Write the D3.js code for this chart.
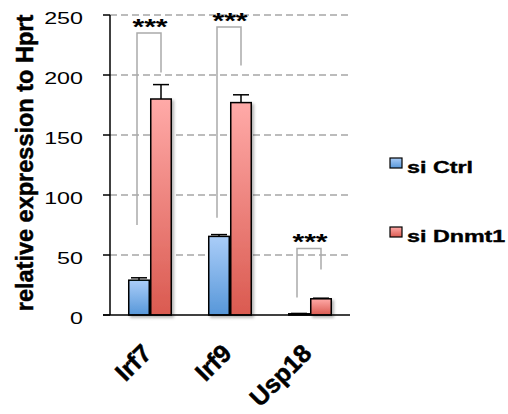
<!DOCTYPE html>
<html><head><meta charset="utf-8">
<script src="https://cdn.jsdelivr.net/npm/d3@7"></script>
<style>body{margin:0;background:#fff}svg{display:block}</style>
</head><body>
<svg id="c" width="508" height="414"></svg>
<script>
const categories = ["Irf7", "Irf9", "Usp18"];
const series = ["si Ctrl", "si Dnmt1"];
const ctrlValues = [29, 65.5, 1];
const ctrlErrors = [2, 1.5, 0.3];
const dnmtValues = [180, 177, 13.5];
const dnmtErrors = [12, 6.5, 0.5];
const yTicks = [0, 50, 100, 150, 200, 250];
// significance brackets: top, left bottom, right bottom (in data units)
const sigTop = [235, 240, 55.5];
const sigLeftBottom = [75, 81, 14.5];
const sigRightBottom = [202, 208, 38];
const sigLabel = ["***", "***", "***"];

const svg = d3.select("#c");
const SX = 1.37;
const FONT = "Liberation Sans, Arial, sans-serif";
const m = {l:110, r:350, t:15, b:315};
const y = d3.scaleLinear().domain([0,250]).range([m.b, m.t]);
const x0 = d3.scaleBand().domain(categories).range([m.l, m.r]).paddingInner(0.45).paddingOuter(0.225);
const x1 = d3.scaleBand().domain(series).range([0, x0.bandwidth()]);

const defs = svg.append("defs");
const g1 = defs.append("linearGradient").attr("id","gb").attr("x1",0).attr("y1",0).attr("x2",0).attr("y2",1);
g1.append("stop").attr("offset","0%").attr("stop-color","#aacdf8");
g1.append("stop").attr("offset","100%").attr("stop-color","#5797d9");
const g2 = defs.append("linearGradient").attr("id","gr").attr("x1",0).attr("y1",0).attr("x2",0).attr("y2",1);
g2.append("stop").attr("offset","0%").attr("stop-color","#ffaaa8");
g2.append("stop").attr("offset","100%").attr("stop-color","#da5a50");
const f = defs.append("filter").attr("id","sh").attr("x","-20%").attr("y","-20%").attr("width","150%").attr("height","150%");
f.append("feDropShadow").attr("dx",2).attr("dy",2).attr("stdDeviation",1.5).attr("flood-color","#000").attr("flood-opacity",0.3);
const fills = {"si Ctrl":"url(#gb)", "si Dnmt1":"url(#gr)"};

// gridlines
svg.append("g").selectAll("line").data(yTicks.filter(d=>d>0)).join("line")
  .attr("x1", m.l).attr("x2", m.r).attr("y1", d=>y(d)).attr("y2", d=>y(d))
  .attr("stroke","#a6a6a6").attr("stroke-width",1.5).attr("stroke-dasharray","7,4");

// brackets
const br = svg.append("g");
categories.forEach((c,i)=>{
  const xl = x0(c) + x1("si Ctrl") + x1.bandwidth()/2 - 2;
  const xr = x0(c) + x1("si Dnmt1") + x1.bandwidth()/2;
  br.append("path")
    .attr("d", `M${xl},${y(sigLeftBottom[i])}V${y(sigTop[i])}H${xr}V${y(sigRightBottom[i])}`)
    .attr("fill","none").attr("stroke","#aaaaaa").attr("stroke-width",1.5);
  br.append("text").attr("transform",`translate(${(xl+xr)/2+1},${y(sigTop[i])+0.5}) scale(${SX},1)`)
    .attr("text-anchor","middle").attr("font-family",FONT)
    .attr("font-weight","bold").attr("font-size",22).attr("fill","#000").text(sigLabel[i]);
});

// bars
const rows = categories.map((c,i)=>({c, vals:[
  {s:"si Ctrl", v:ctrlValues[i], e:ctrlErrors[i]},
  {s:"si Dnmt1", v:dnmtValues[i], e:dnmtErrors[i]}]}));
const grp = svg.append("g").selectAll("g").data(rows).join("g")
  .attr("transform", d=>`translate(${x0(d.c)},0)`);
grp.selectAll("line.err").data(d=>d.vals).join("line").attr("class","err")
  .attr("x1", d=>x1(d.s)+x1.bandwidth()/2).attr("x2", d=>x1(d.s)+x1.bandwidth()/2)
  .attr("y1", d=>y(d.v)).attr("y2", d=>y(d.v+d.e)).attr("stroke","#000").attr("stroke-width",1.5);
grp.selectAll("line.cap").data(d=>d.vals).join("line").attr("class","cap")
  .attr("x1", d=>x1(d.s)+x1.bandwidth()/2-8).attr("x2", d=>x1(d.s)+x1.bandwidth()/2+8)
  .attr("y1", d=>y(d.v+d.e)).attr("y2", d=>y(d.v+d.e)).attr("stroke","#000").attr("stroke-width",1.5);
grp.selectAll("rect").data(d=>d.vals).join("rect")
  .attr("x", d=>x1(d.s)+0.75).attr("width", x1.bandwidth()-1.5)
  .attr("y", d=>y(d.v)).attr("height", d=>y(0)-y(d.v))
  .attr("fill", d=>fills[d.s]).attr("stroke","#000").attr("stroke-width",1.5)
  .attr("filter","url(#sh)");

// axes
svg.append("line").attr("x1",m.l).attr("x2",m.l).attr("y1",m.t).attr("y2",m.b).attr("stroke","#000").attr("stroke-width",1.5);
svg.append("line").attr("x1",m.l-7).attr("x2",m.r).attr("y1",m.b).attr("y2",m.b).attr("stroke","#000").attr("stroke-width",1.5);
svg.append("g").selectAll("line").data(yTicks).join("line")
  .attr("x1",m.l-7).attr("x2",m.l).attr("y1",d=>y(d)).attr("y2",d=>y(d)).attr("stroke","#000").attr("stroke-width",1.5);
svg.append("g").selectAll("text").data(yTicks).join("text")
  .attr("transform", d=>`translate(83,${y(d)+3}) scale(${SX},1)`)
  .attr("text-anchor","end").attr("dy","0.35em")
  .attr("font-family",FONT).attr("font-size",17).attr("fill","#000")
  .text(d=>d);

// y title
svg.append("text").attr("transform","translate(33,163) rotate(-90)")
  .attr("text-anchor","middle").attr("font-family",FONT)
  .attr("font-weight","bold").attr("font-size",23.5).attr("fill","#000")
  .attr("stroke","#000").attr("stroke-width",0.5)
  .text("relative expression to Hprt");

// category labels
svg.append("g").selectAll("text").data(categories).join("text")
  .attr("transform", d=>`translate(${x0(d)+x0.bandwidth()/2+3},355) rotate(-45)`)
  .attr("text-anchor","end")
  .attr("font-family",FONT).attr("font-weight","bold")
  .attr("stroke","#000").attr("stroke-width",0.5)
  .attr("font-size",25).attr("fill","#000").text(d=>d);

// legend
const lg = svg.append("g").selectAll("g").data(series).join("g")
  .attr("transform",(d,i)=>`translate(390,${158+i*69})`);
lg.append("rect").attr("width",12).attr("height",10).attr("fill",d=>fills[d]).attr("stroke","#000").attr("stroke-width",1.2);
lg.append("text").attr("transform",`translate(17,15) scale(${SX},1)`)
  .attr("font-family",FONT).attr("font-weight","bold")
  .attr("stroke","#000").attr("stroke-width",0.4)
  .attr("font-size",17).attr("fill","#000").text(d=>d);
</script>
</body></html>
